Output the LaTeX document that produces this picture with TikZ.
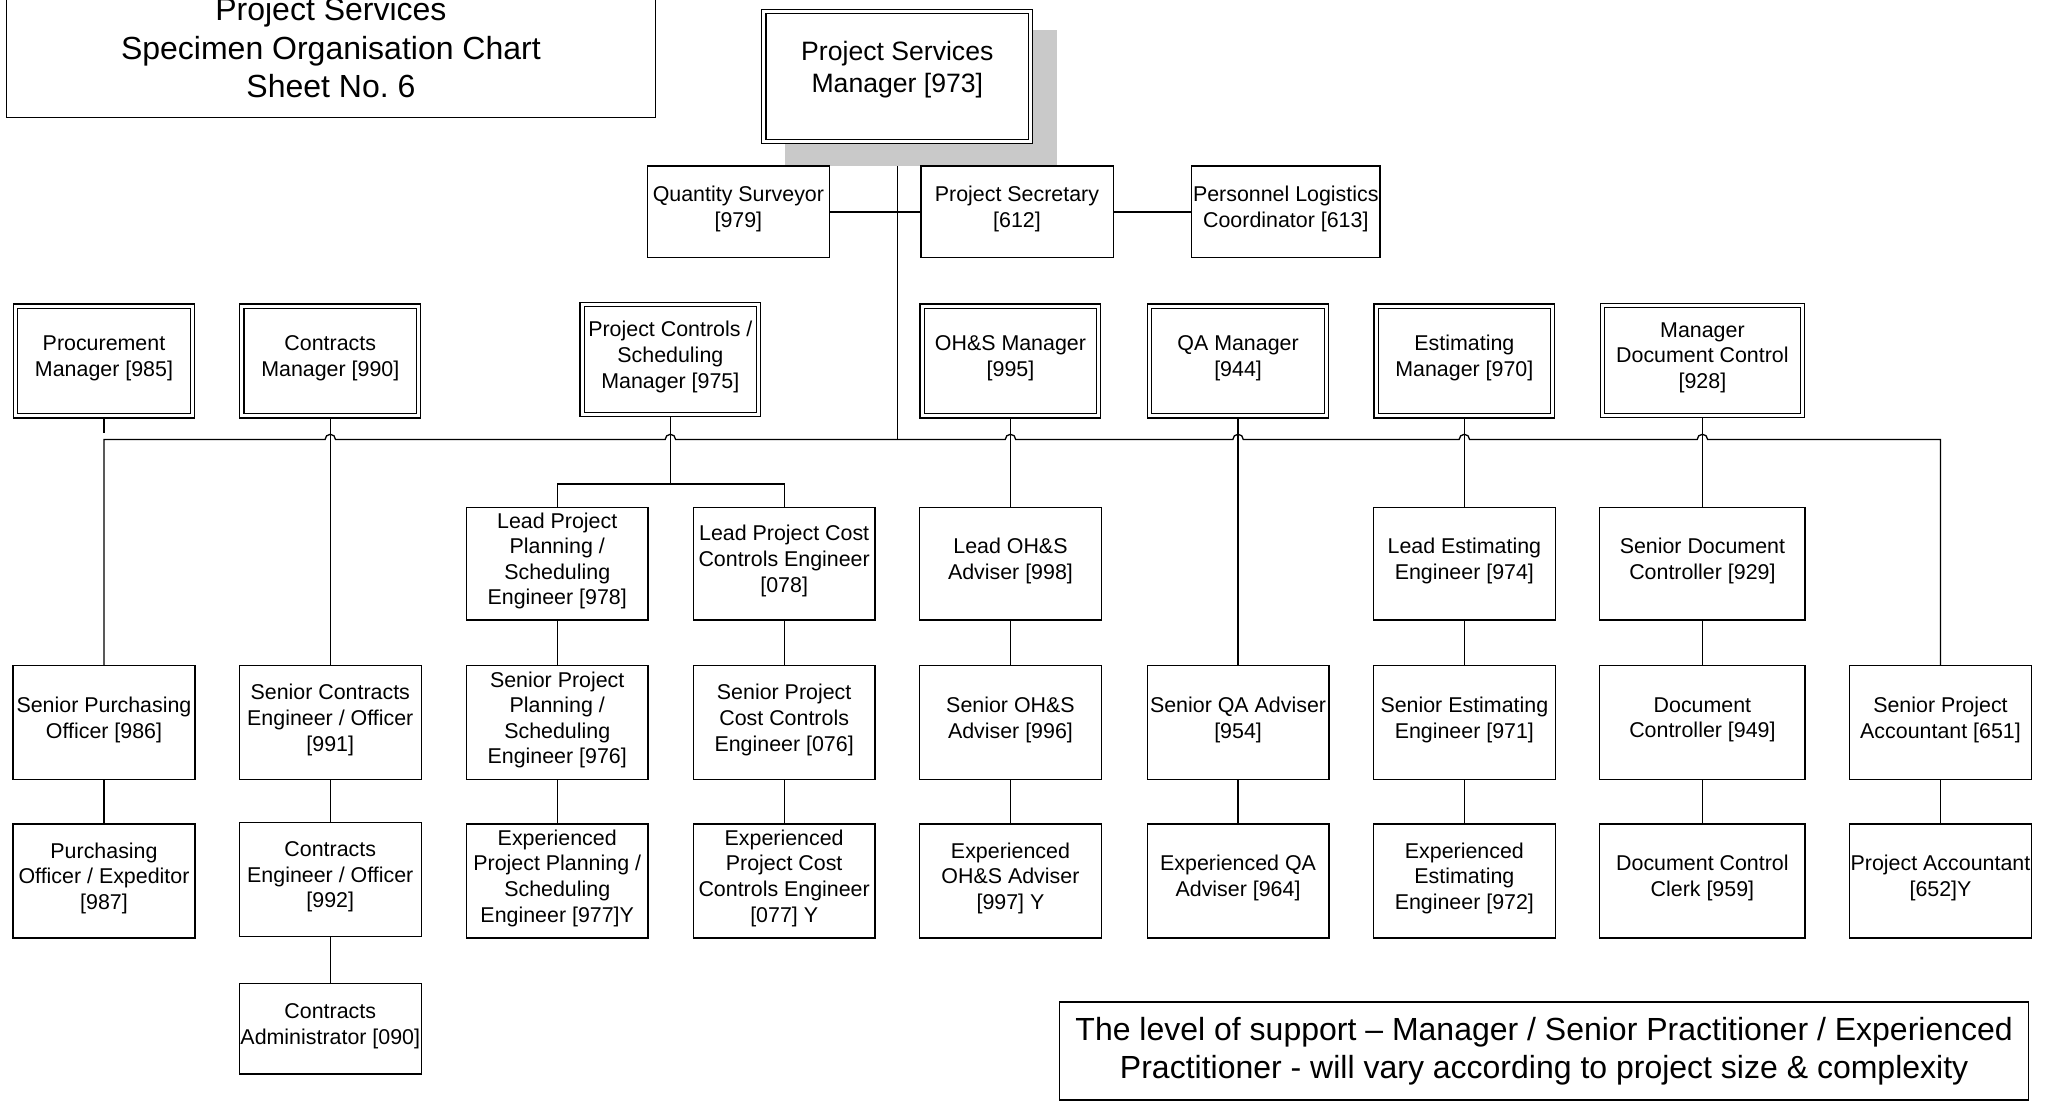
\documentclass[tikz,border=0pt]{standalone}
\usepackage{fontspec}
\setmainfont{Liberation Sans}
\usetikzlibrary{calc,backgrounds}
\begin{document}
\def\U{0.654pt}
\begin{tikzpicture}[x=0.654pt,y=-0.654pt,
  every node/.style={font=\fontsize{10.7}{12.8}\selectfont, align=center, inner sep=0pt},
  box/.style={draw, line width=0.65pt, minimum width=139*\U, minimum height=87*\U, fill=white,
    execute at end node={\rule[-5pt]{0pt}{5pt}}},
  dbox/.style={box, double, double distance=1.5pt, line width=0.6pt,
    minimum width=135*\U, minimum height=84*\U},
  conn/.style={line width=0.65pt}]
\useasboundingbox (0,0) rectangle (1568,842);

% title and note
\node[draw, line width=0.65pt, minimum width=496*\U, minimum height=98*\U,
  font=\fontsize{16}{19.3}\selectfont, execute at end node={\rule[-6pt]{0pt}{6pt}}]
  (title) at (253,41) {Project Services\\Specimen Organisation Chart\\Sheet No.\ 6};
\node[draw, line width=0.65pt, minimum width=741*\U, minimum height=75*\U,
  font=\fontsize{16}{19}\selectfont, execute at end node={\rule[-2.5pt]{0pt}{2.5pt}}]
  (note) at (1180.5,803.5) {The level of support – Manager / Senior Practitioner / Experienced\\Practitioner - will vary according to project size \& complexity};

% top level
\fill[black!21] (600,23) rectangle (808,127);
\node[dbox, minimum width=204*\U, minimum height=99*\U, font=\fontsize{13.3}{16.2}\selectfont,
  execute at end node={\rule[-9.5pt]{0pt}{9.5pt}}]
  (psm) at (686,58.5) {Project Services\\Manager [973]};
\node[box, minimum height=70*\U] (qs) at (564.5,162) {Quantity Surveyor\\{[979]}};
\node[box, minimum width=147*\U, minimum height=70*\U] (ps) at (777.5,162) {Project Secretary\\{[612]}};
\node[box, minimum width=144*\U, minimum height=70*\U] (plc) at (983,162) {Personnel Logistics\\Coordinator [613]};

% managers
\node[dbox] (pm) at (79.5,276) {Procurement\\Manager [985]};
\node[dbox] (cm) at (252.5,276) {Contracts\\Manager [990]};
\node[dbox] (pcm) at (512.5,275) {Project Controls /\\Scheduling\\Manager [975]};
\node[dbox] (ohm) at (772.5,276) {OH\&S Manager\\{[995]}};
\node[dbox] (qam) at (946.5,276) {QA Manager\\{[944]}};
\node[dbox] (em) at (1119.5,276) {Estimating\\Manager [970]};
\node[dbox, minimum width=153*\U] (mdc) at (1301.5,275.5) {Manager\\Document Control\\{[928]}};

% lead row
\node[box, minimum height=86*\U] (lpp) at (426,431) {Lead Project\\Planning /\\Scheduling\\Engineer [978]};
\node[box, minimum height=86*\U] (lpc) at (599.5,431) {Lead Project Cost\\Controls Engineer\\{[078]}};
\node[box, minimum height=86*\U] (loh) at (772.5,431) {Lead OH\&S\\Adviser [998]};
\node[box, minimum height=86*\U] (les) at (1119.5,431) {Lead Estimating\\Engineer [974]};
\node[box, minimum height=86*\U, minimum width=157*\U] (sdc) at (1301.5,431) {Senior Document\\Controller [929]};

% senior row
\node[box] (spo) at (79.5,552.5) {Senior Purchasing\\Officer [986]};
\node[box] (sce) at (252.5,552.5) {Senior Contracts\\Engineer / Officer\\{[991]}};
\node[box] (spp) at (426,552.5) {Senior Project\\Planning /\\Scheduling\\Engineer [976]};
\node[box] (spc) at (599.5,552.5) {Senior Project\\Cost Controls\\Engineer [076]};
\node[box] (soh) at (772.5,552.5) {Senior OH\&S\\Adviser [996]};
\node[box] (sqa) at (946.5,552.5) {Senior QA Adviser\\{[954]}};
\node[box] (ses) at (1119.5,552.5) {Senior Estimating\\Engineer [971]};
\node[box, minimum width=157*\U] (dc) at (1301.5,552.5) {Document\\Controller [949]};
\node[box] (spa) at (1483.5,552.5) {Senior Project\\Accountant [651]};

% experienced row
\node[box] (pox) at (79.5,673.5) {Purchasing\\Officer / Expeditor\\{[987]}};
\node[box] (ceo) at (252.5,672.5) {Contracts\\Engineer / Officer\\{[992]}};
\node[box] (epp) at (426,673.5) {Experienced\\Project Planning /\\Scheduling\\Engineer [977]Y};
\node[box] (epc) at (599.5,673.5) {Experienced\\Project Cost\\Controls Engineer\\{[077] Y}};
\node[box] (eoh) at (772.5,673.5) {Experienced\\OH\&S Adviser\\{[997] Y}};
\node[box] (eqa) at (946.5,673.5) {Experienced QA\\Adviser [964]};
\node[box] (eee) at (1119.5,673.5) {Experienced\\Estimating\\Engineer [972]};
\node[box, minimum width=157*\U] (dcc) at (1301.5,673.5) {Document Control\\Clerk [959]};
\node[box] (pa) at (1483.5,673.5) {Project Accountant\\{[652]Y}};

\node[box, minimum height=69*\U] (ca) at (252.5,786.5) {Contracts\\Administrator [090]};

% connectors
\begin{pgfonlayer}{background}
\coordinate (bus) at (0,336);
\coordinate (split) at (512.5,370);
\coordinate (pmstub) at (79.5,331);
\draw[conn] (psm.south) -- (psm.south |- bus);
\draw[conn] (qs.east) -- (ps.west);
\draw[conn] (ps.east) -- (plc.west);
\draw[conn] (pm.south) -- (pmstub);
\draw[conn] (spo.north) -- (spo.north |- bus)
  -- ($(cm.south |- bus)+(-4,0)$) arc[start angle=180,end angle=0,radius=4*\U]
  -- ($(pcm.south |- bus)+(-4,0)$) arc[start angle=180,end angle=0,radius=4*\U]
  -- ($(ohm.south |- bus)+(-4,0)$) arc[start angle=180,end angle=0,radius=4*\U]
  -- ($(qam.south |- bus)+(-4,0)$) arc[start angle=180,end angle=0,radius=4*\U]
  -- ($(em.south |- bus)+(-4,0)$) arc[start angle=180,end angle=0,radius=4*\U]
  -- ($(mdc.south |- bus)+(-4,0)$) arc[start angle=180,end angle=0,radius=4*\U]
  -- (spa.north |- bus) -- (spa.north);
\draw[conn] (cm.south) -- (sce.north);
\draw[conn] (pcm.south) -- (split);
\draw[conn] (lpp.north) |- (split) -| (lpc.north);
\draw[conn] (ohm.south) -- (loh.north);
\draw[conn] (qam.south) -- (sqa.north);
\draw[conn] (em.south) -- (les.north);
\draw[conn] (mdc.south) -- (sdc.north);
\draw[conn] (lpp.south) -- (spp.north);
\draw[conn] (lpc.south) -- (spc.north);
\draw[conn] (loh.south) -- (soh.north);
\draw[conn] (les.south) -- (ses.north);
\draw[conn] (sdc.south) -- (dc.north);
\draw[conn] (spo.south) -- (pox.north);
\draw[conn] (sce.south) -- (ceo.north);
\draw[conn] (ceo.south) -- (ca.north);
\draw[conn] (spp.south) -- (epp.north);
\draw[conn] (spc.south) -- (epc.north);
\draw[conn] (soh.south) -- (eoh.north);
\draw[conn] (sqa.south) -- (eqa.north);
\draw[conn] (ses.south) -- (eee.north);
\draw[conn] (dc.south) -- (dcc.north);
\draw[conn] (spa.south) -- (pa.north);
\end{pgfonlayer}
\end{tikzpicture}
\end{document}
